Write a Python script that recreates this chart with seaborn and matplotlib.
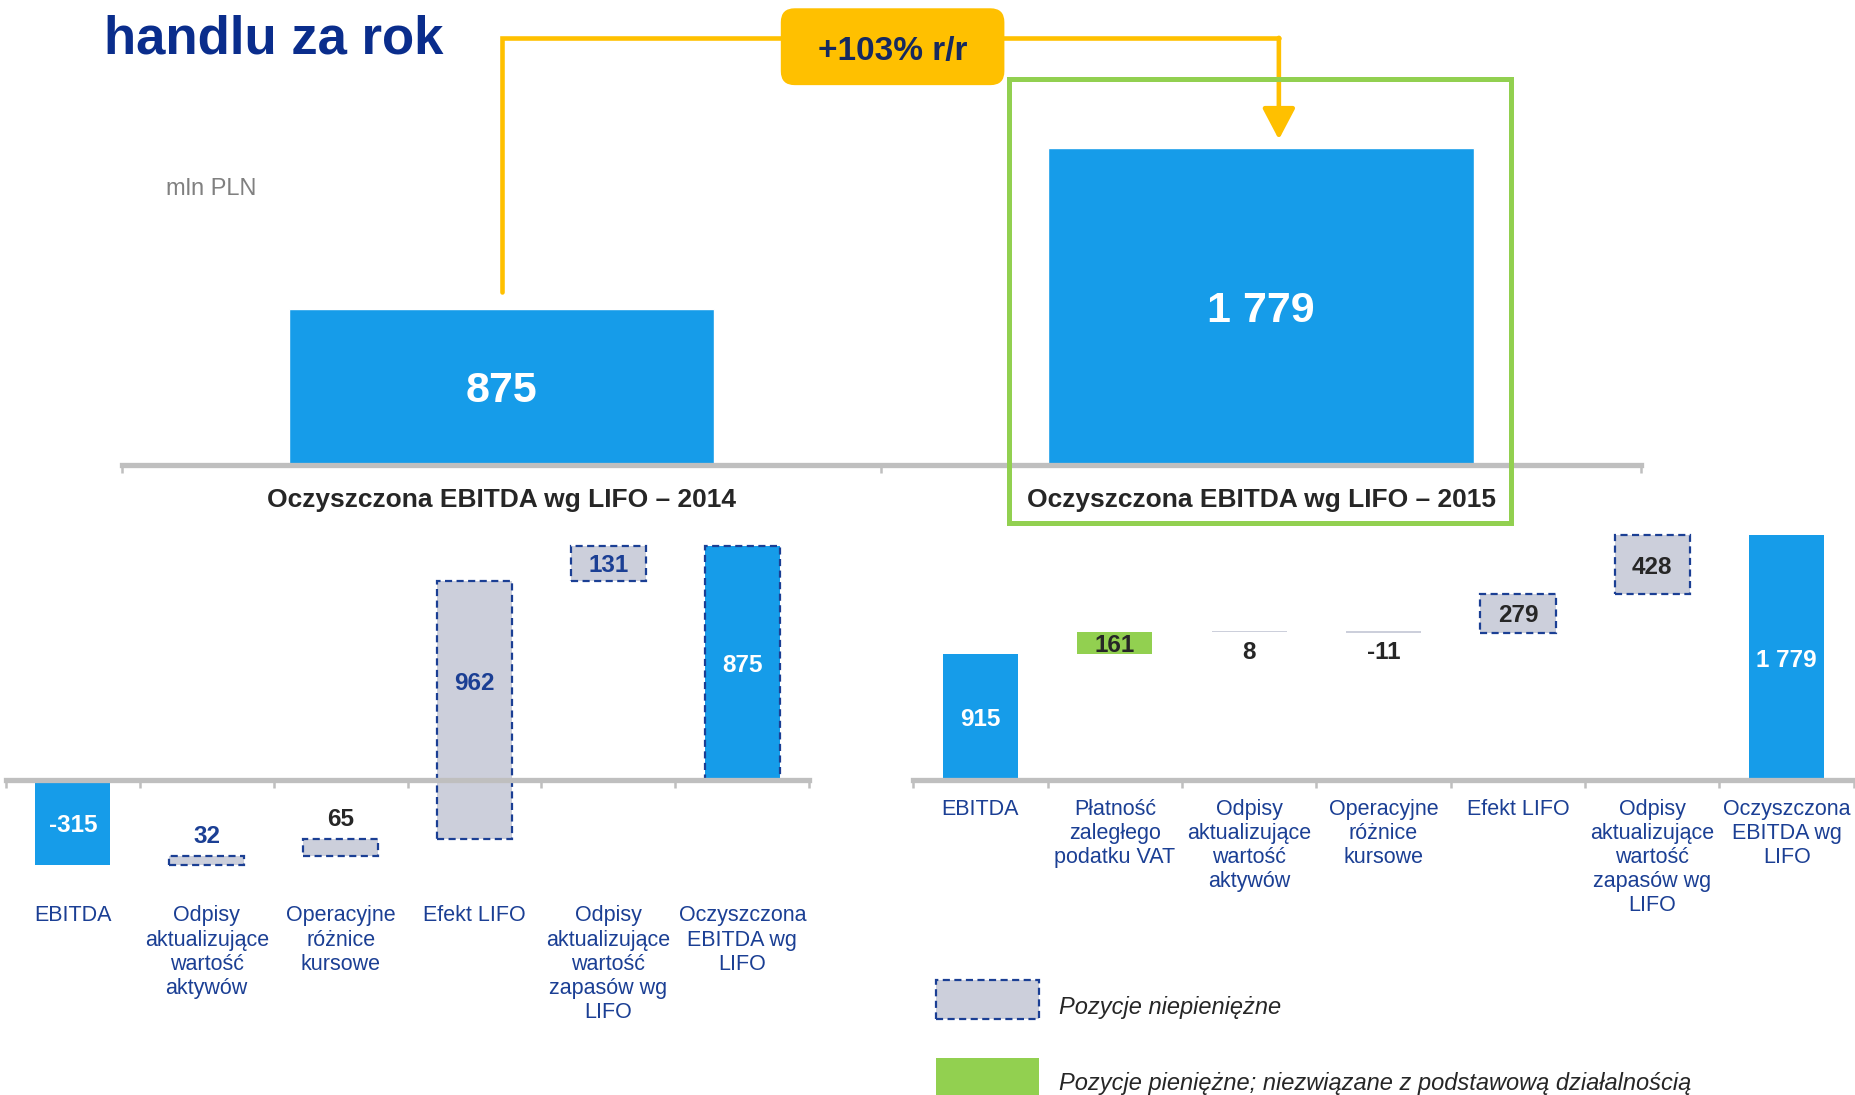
import matplotlib
matplotlib.use("Agg")
import matplotlib.pyplot as plt
import seaborn as sns
import numpy as np
from matplotlib.patches import Rectangle, FancyBboxPatch

# ---- data ----
years = ["2014", "2015"]
ebitda_lifo = [875, 1779]

left_labels = ["EBITDA", "Odpisy\naktualizujące\nwartość\naktywów", "Operacyjne\nróżnice\nkursowe",
               "Efekt LIFO", "Odpisy\naktualizujące\nwartość\nzapasów wg\nLIFO", "Oczyszczona\nEBITDA wg\nLIFO"]
left_values = [-315, 32, 65, 962, 131, 875]
left_kind = ["total", "noncash", "noncash", "noncash", "noncash", "total_dashed"]

right_labels = ["EBITDA", "Płatność\nzaległego\npodatku VAT", "Odpisy\naktualizujące\nwartość\naktywów",
                "Operacyjne\nróżnice\nkursowe", "Efekt LIFO", "Odpisy\naktualizujące\nwartość\nzapasów wg\nLIFO",
                "Oczyszczona\nEBITDA wg\nLIFO"]
right_values = [915, 161, 8, -11, 279, 428, 1779]
right_kind = ["total", "cash", "other", "other", "noncash", "noncash", "total"]

# ---- style ----
BLUE = "#169CE9"
GRAYBOX = "#CCCFDB"
NAVY = "#1B3F94"
DARK = "#262626"
AXGRAY = "#BFBFBF"
GREEN = "#92D050"
YELLOW = "#FFC000"
DASH = (0, (3.2, 2.0))

sns.set_style("white")
plt.rcParams["font.family"] = ["Liberation Sans", "DejaVu Sans"]

fig = plt.figure(figsize=(18.55, 10.95), dpi=100)


def fx(x):
    return x / 1568


def fy(y):
    return 1 - y / 926


def add_ax(x0, x1, ytop, ybot):
    ax = fig.add_axes([fx(x0), fy(ybot), fx(x1) - fx(x0), fy(ytop) - fy(ybot)])
    ax.set_facecolor("none")
    return ax


def style_axis(ax, n, pad, size, color, weight="normal"):
    for s in ["top", "right", "left"]:
        ax.spines[s].set_visible(False)
    ax.spines["bottom"].set_color(AXGRAY)
    ax.spines["bottom"].set_linewidth(3.8)
    ax.set_yticks([])
    ax.set_xlim(-0.5, n - 0.5)
    ax.set_xticks(np.arange(-0.5, n), minor=True)
    ax.tick_params(axis="x", which="major", bottom=True, length=0, pad=pad, labelsize=size, labelcolor=color)
    ax.tick_params(axis="x", which="minor", bottom=True, length=5.5, width=1.8, color=AXGRAY, direction="out")
    for t in ax.get_xticklabels():
        t.set_fontweight(weight)
        t.set_multialignment("center")
    ax.set_xlabel("")
    ax.set_ylabel("")


def fmt(v):
    return f"{v:,}".replace(",", " ")


def waterfall(ax, labels, values, kinds, where, tcolors):
    starts = []
    run = 0
    for v, k in zip(values, kinds):
        if k.startswith("total"):
            starts.append(0)
            run = v
        else:
            starts.append(run)
            run += v
    sns.barplot(x=labels, y=values, ax=ax, color=BLUE, saturation=1, width=0.56, errorbar=None)
    for i, p in enumerate(ax.patches):
        p.set_y(starts[i])
        k = kinds[i]
        if k in ("noncash", "other"):
            p.set_facecolor(GRAYBOX)
        elif k == "cash":
            p.set_facecolor(GREEN)
        if k in ("noncash", "total_dashed"):
            p.set_edgecolor(NAVY)
            p.set_linestyle(DASH)
            p.set_linewidth(1.6)
        else:
            p.set_linewidth(0)
        lo, hi = sorted([starts[i], starts[i] + values[i]])
        kw = dict(ha="center", fontsize=17.5, fontweight="bold", color=tcolors[i])
        if where[i] == "in":
            if lo < 0 < hi:
                lo = 0
            ax.text(i, (lo + hi) / 2, fmt(values[i]), va="center_baseline", **kw)
        elif where[i] == "above":
            ax.annotate(fmt(values[i]), (i, hi), xytext=(0, 6), textcoords="offset points", va="bottom", **kw)
        else:
            ax.annotate(fmt(values[i]), (i, lo), xytext=(0, -6), textcoords="offset points", va="top", **kw)
    ax.spines["bottom"].set_position(("data", 0))


# ---- top comparison chart ----
ax_top = add_ax(103, 1387, 60, 393)
top_labels = [f"Oczyszczona EBITDA wg LIFO \u2013 {y}" for y in years]
sns.barplot(x=top_labels, y=ebitda_lifo, ax=ax_top, color=BLUE, saturation=1, width=0.56, errorbar=None)
ax_top.set_ylim(0, (393 - 60) / 0.1507)
style_axis(ax_top, 2, 17, 19, DARK, "bold")
for i, v in enumerate(ebitda_lifo):
    ax_top.text(i, v / 2, fmt(v), ha="center", va="center_baseline", fontsize=31, fontweight="bold",
                color="white")

# yellow bracket with arrow
ybr = (393 - 32) / 0.1507
xr = 1 + (1081 - 1066) / 642
ax_top.plot([0, 0, xr, xr], [ebitda_lifo[0] + 93, ybr, ybr, ybr - 1], color=YELLOW, lw=3.3, clip_on=False,
            solid_joinstyle="miter")
ax_top.annotate("", xy=(xr, ebitda_lifo[1] + 46), xytext=(xr, ybr),
                arrowprops=dict(arrowstyle="-|>,head_length=0.95,head_width=0.5", mutation_scale=20,
                                lw=3.3, color=YELLOW, shrinkA=0, shrinkB=0), annotation_clip=False)

growth = round((ebitda_lifo[1] / ebitda_lifo[0] - 1) * 100)
box = FancyBboxPatch((fx(660), fy(72)), fx(849) - fx(660), fy(7) - fy(72),
                     boxstyle="round,pad=0,rounding_size=0.0075", mutation_aspect=1855 / 1095,
                     transform=fig.transFigure, fc=YELLOW, ec="none", zorder=5)
fig.patches.append(box)
fig.text(fx(754.5), fy(41), f"+{growth}% r/r", ha="center", va="center_baseline", fontsize=24,
         fontweight="bold", color="#16295F", zorder=6)

# green frame
frame = Rectangle((fx(853), fy(442)), fx(1277) - fx(853), fy(67) - fy(442), transform=fig.transFigure,
                  fill=False, ec=GREEN, lw=3.6, zorder=5)
fig.patches.append(frame)

# ---- waterfalls ----
ax_l = add_ax(5, 684, 440, 745)
waterfall(ax_l, left_labels, left_values, left_kind,
          ["in", "above", "above", "in", "in", "in"],
          ["white", NAVY, DARK, NAVY, NAVY, "white"])
ax_l.set_ylim(-(745 - 660) / 0.227, (660 - 440) / 0.227)
style_axis(ax_l, len(left_values), 90, 15.5, NAVY)

ax_r = add_ax(772, 1567, 440, 680)
waterfall(ax_r, right_labels, right_values, right_kind,
          ["in", "in", "below", "below", "in", "in", "in"],
          ["white", DARK, DARK, DARK, DARK, DARK, "white"])
ax_r.set_ylim(-(680 - 660) / 0.1165, (660 - 440) / 0.1165)
style_axis(ax_r, len(right_values), 13, 15.5, NAVY)

# ---- texts and legend ----
fig.text(fx(88), fy(45), "handlu za rok", ha="left", va="baseline", fontsize=38, fontweight="bold",
         color="#0A2D8C")
fig.text(fx(140), fy(160), "mln PLN", ha="left", va="center", fontsize=17, color="#808080")

leg1 = Rectangle((fx(791), fy(862)), fx(878) - fx(791), fy(829) - fy(862), transform=fig.transFigure,
                 fc=GRAYBOX, ec=NAVY, ls=DASH, lw=1.6)
leg2 = Rectangle((fx(791), fy(940)), fx(878) - fx(791), fy(895) - fy(940), transform=fig.transFigure,
                 fc=GREEN, ec="none")
fig.patches.extend([leg1, leg2])
fig.text(fx(895), fy(852), "Pozycje niepieniężne", ha="left", va="center", fontsize=17, style="italic",
         color=DARK)
fig.text(fx(895), fy(916), "Pozycje pieniężne; niezwiązane z podstawową działalnością", ha="left",
         va="center", fontsize=17, style="italic", color=DARK)

fig.savefig("out.png", dpi=100)
